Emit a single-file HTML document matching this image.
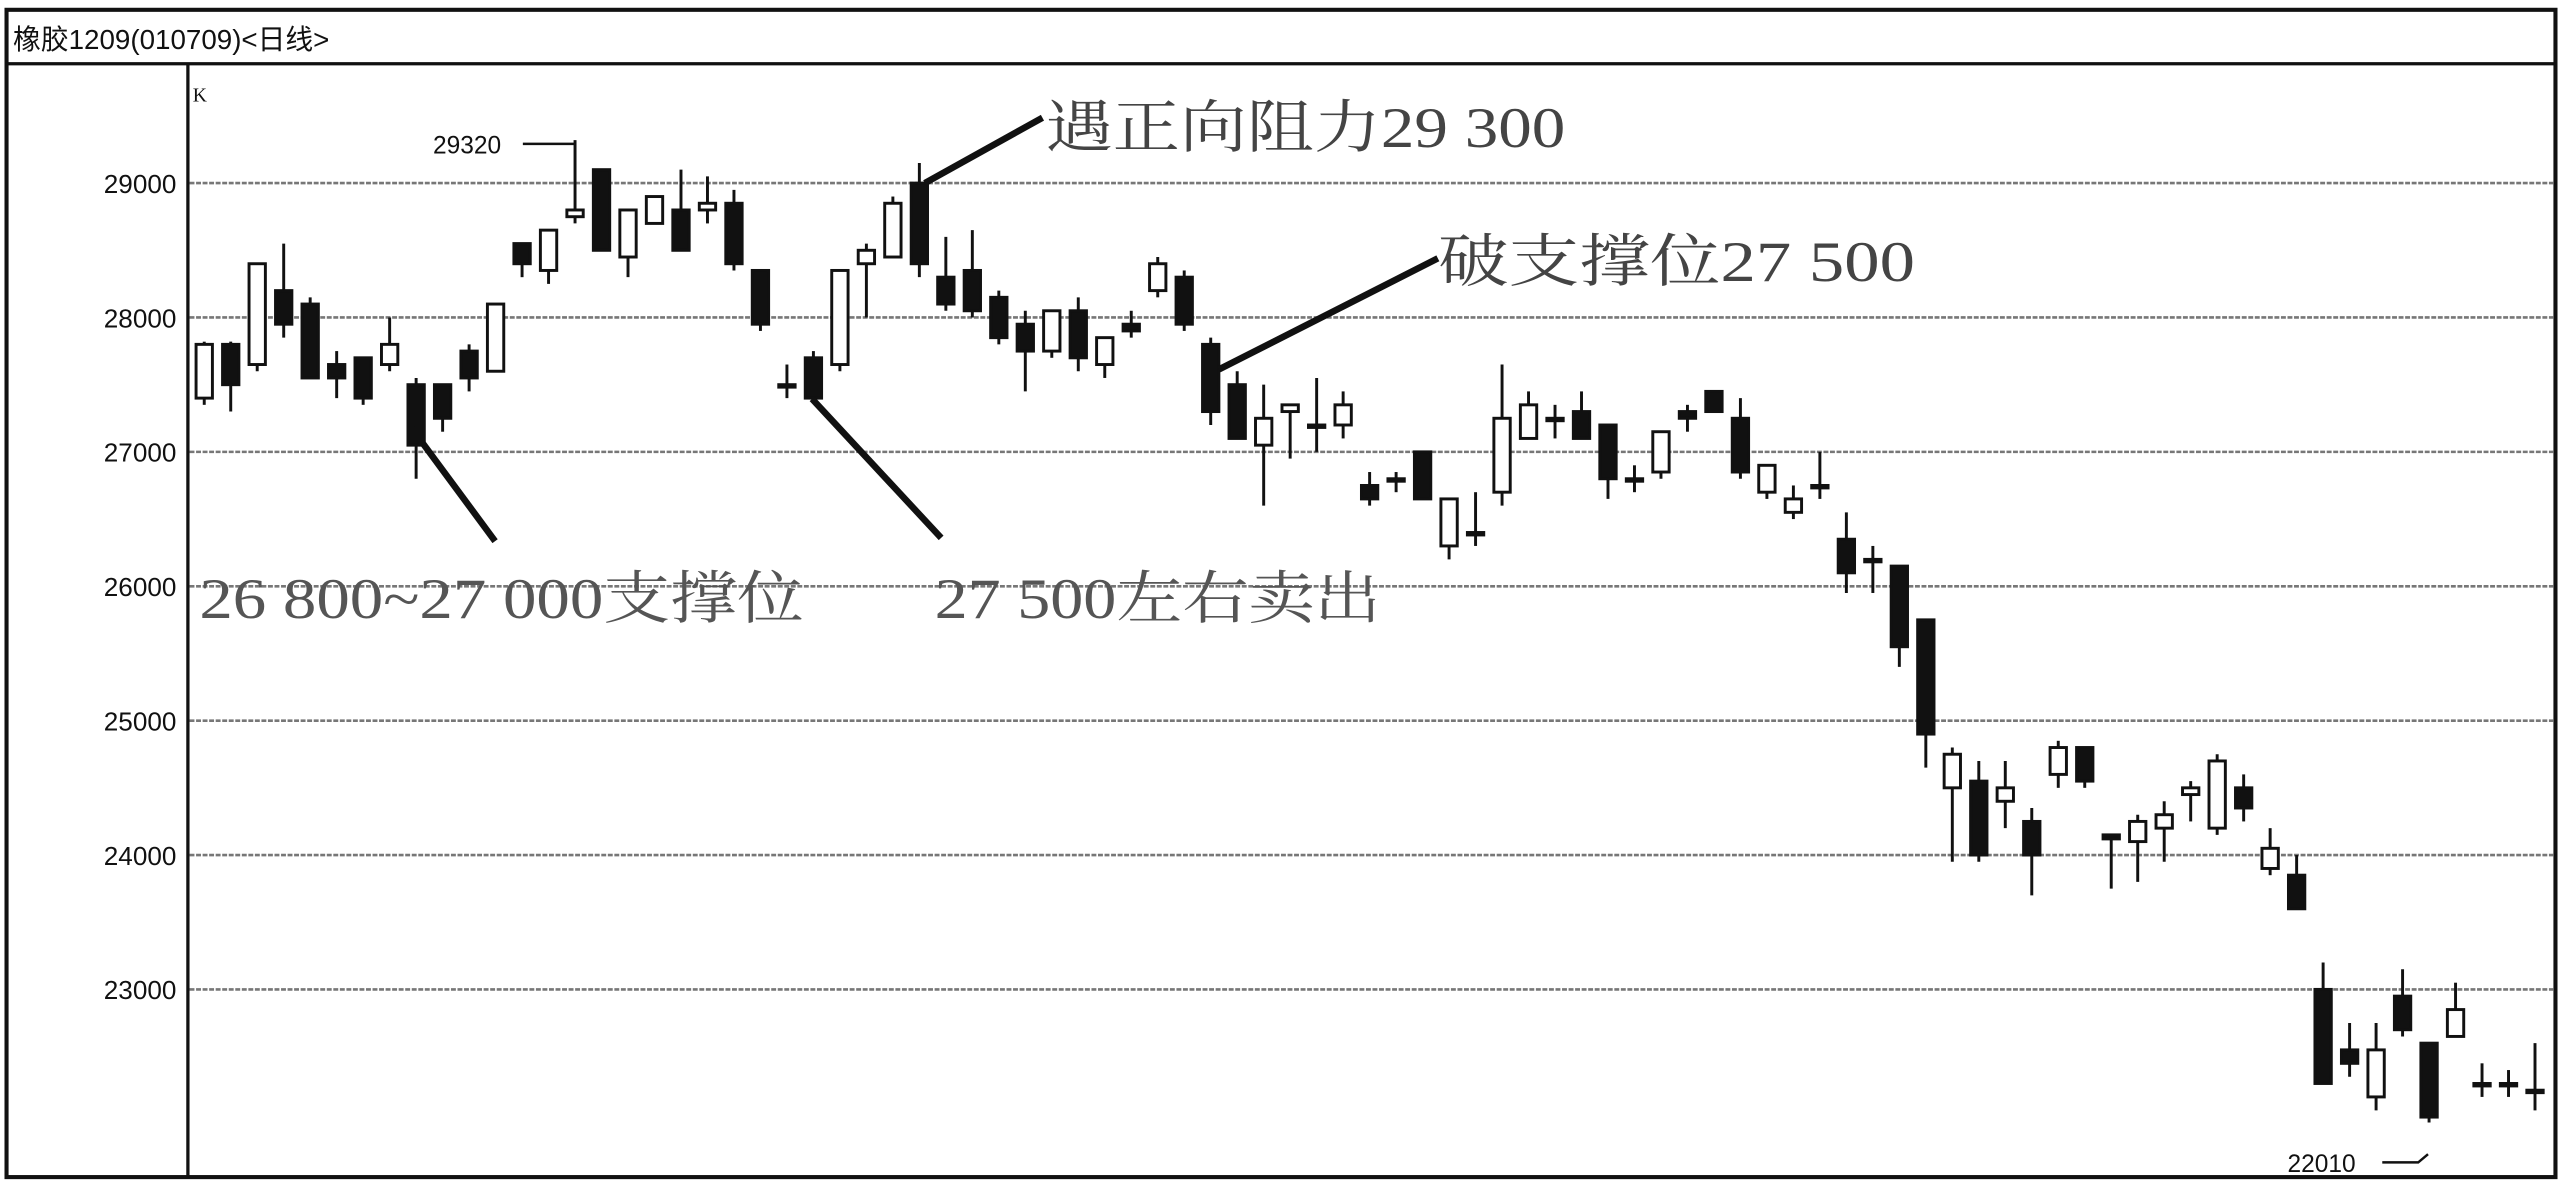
<!DOCTYPE html>
<html><head><meta charset="utf-8"><style>
html,body{margin:0;padding:0;background:#fff;}
svg{display:block;}
</style></head><body>
<svg id="chart" width="2562" height="1182" viewBox="0 0 1568 723" preserveAspectRatio="none" xmlns="http://www.w3.org/2000/svg">
<rect x="0" y="0" width="1568" height="723" fill="#fff"/>
<rect x="4" y="6" width="1560" height="714" fill="none" stroke="#111" stroke-width="2.5"/>
<line x1="4" y1="39" x2="1564" y2="39" stroke="#111" stroke-width="2"/>
<text x="8" y="30" font-size="17" font-family="Liberation Sans, Noto Sans CJK SC, sans-serif" fill="#111">橡胶1209(010709)&lt;日线&gt;</text>
<line x1="115" y1="39" x2="115" y2="720" stroke="#111" stroke-width="2"/>
<text x="118" y="62" font-size="12" font-family="Liberation Serif, serif" fill="#111">K</text>
<g id="grid"></g>
<g id="candles"></g>
<g font-family="Liberation Serif, Noto Serif CJK SC, serif" fill="#333">
<line x1="252" y1="262" x2="303" y2="331" stroke="#111" stroke-width="4"/>
<text x="122" y="378" font-size="35" fill="#555" textLength="370" lengthAdjust="spacingAndGlyphs">26 800~27 000支撑位</text>
<line x1="497" y1="244" x2="576" y2="329" stroke="#111" stroke-width="4"/>
<text x="572" y="378" font-size="35" fill="#555" textLength="273" lengthAdjust="spacingAndGlyphs">27 500左右卖出</text>
<line x1="566" y1="112" x2="638" y2="72" stroke="#111" stroke-width="4"/>
<text x="640" y="90" font-size="35" fill="#444" textLength="318" lengthAdjust="spacingAndGlyphs">遇正向阻力29 300</text>
<line x1="746" y1="226" x2="880" y2="158" stroke="#111" stroke-width="4"/>
<text x="880" y="172" font-size="35" fill="#444" textLength="292" lengthAdjust="spacingAndGlyphs">破支撑位27 500</text>
</g>
<g font-family="Liberation Sans, sans-serif" font-size="15" fill="#111">
<text x="265" y="94">29320</text>
<path d="M320 88 H352 V110" fill="none" stroke="#111" stroke-width="1.5"/>
<text x="1400" y="717">22010</text>
<path d="M1458 711 H1480 L1486 706" fill="none" stroke="#111" stroke-width="1.5"/>
</g>
</svg>
<script>
const tickValues=[29000,28000,27000,26000,25000,24000,23000];
const opens=[27400,27800,27650,28200,28100,27650,27700,27650,27500,27500,27750,27600,28550,28350,28750,29100,28450,28700,28800,28800,28850,28350,27500,27700,27650,28400,28450,29000,28300,28350,28150,27950,27750,28050,27650,27950,28200,28300,27800,27500,27050,27300,27200,27200,26750,26800,27000,26300,26400,26700,27100,27250,27300,27200,26800,26850,27300,27450,27250,26700,26550,26750,26350,26200,26150,25750,24500,24550,24400,24250,24600,24800,24150,24100,24200,24450,24200,24500,23900,23850,23000,22550,22200,22950,22600,22650,22300,22300,22250];
const closes=[27800,27500,28400,27950,27550,27550,27400,27800,27050,27250,27550,28100,28400,28650,28800,28500,28800,28900,28500,28850,28400,27950,27500,27400,28350,28500,28850,28400,28100,28050,27850,27750,28050,27700,27850,27900,28400,27950,27300,27100,27250,27350,27200,27350,26650,26800,26650,26650,26400,27250,27350,27250,27100,26800,26800,27150,27250,27300,26850,26900,26650,26750,26100,26200,25550,24900,24750,24000,24500,24000,24800,24550,24120,24250,24300,24500,24700,24350,24050,23600,22300,22450,22550,22700,22050,22850,22300,22300,22250];
const highs=[27820,27820,28400,28550,28150,27750,27700,28000,27550,27500,27800,28100,28550,28650,29320,29100,28800,28900,29100,29050,28950,28350,27650,27750,28350,28550,28900,29150,28600,28650,28200,28050,28050,28150,27850,28050,28450,28350,27850,27600,27500,27350,27550,27450,26850,26850,27000,26650,26700,27650,27450,27350,27450,27200,26900,27150,27350,27450,27400,26900,26750,27000,26550,26300,26150,25750,24800,24700,24700,24350,24850,24800,24150,24300,24400,24550,24750,24600,24200,24000,23200,22750,22750,23150,22600,23050,22450,22400,22600];
const lows=[27350,27300,27600,27850,27550,27400,27350,27600,26800,27150,27450,27600,28300,28250,28700,28500,28300,28700,28500,28700,28350,27900,27400,27400,27600,28000,28450,28300,28050,28000,27800,27450,27700,27600,27550,27850,28150,27900,27200,27100,26600,26950,27000,27100,26600,26700,26650,26200,26300,26600,27100,27100,27100,26650,26700,26800,27150,27300,26800,26650,26500,26650,25950,25950,25400,24650,23950,23950,24200,23700,24500,24500,23750,23800,23950,24250,24150,24250,23850,23600,22300,22350,22100,22650,22010,22650,22200,22200,22100];
const NS='http://www.w3.org/2000/svg';
function xPos(i){return 125+i*16.21;}
function yPos(v){return 112+(29000-v)*0.0822;}
const grid=document.getElementById('grid');
tickValues.forEach(function(t){
  const ln=document.createElementNS(NS,'line');
  
  
  ln.setAttribute('x1',116);ln.setAttribute('x2',1563);
  ln.setAttribute('y1',yPos(t));ln.setAttribute('y2',yPos(t));
  ln.setAttribute('stroke','#777');ln.setAttribute('stroke-width','1.6');ln.setAttribute('stroke-dasharray','3 1');
  grid.appendChild(ln);
  const tx=document.createElementNS(NS,'text');
  
  
  tx.setAttribute('x',108);tx.setAttribute('y',yPos(t)+6);
  tx.setAttribute('text-anchor','end');tx.setAttribute('font-size','16');
  tx.setAttribute('font-family','Liberation Sans, sans-serif');tx.setAttribute('fill','#111');
  tx.textContent=t;
  grid.appendChild(tx);
});
const cg=document.getElementById('candles');
for(let i=0;i<opens.length;i++){
  const x=xPos(i),o=opens[i],c=closes[i];
  const g=document.createElementNS(NS,'g');
  
  
  const w=document.createElementNS(NS,'line');
  
  
  w.setAttribute('x1',x);w.setAttribute('x2',x);
  w.setAttribute('y1',yPos(highs[i]));w.setAttribute('y2',yPos(lows[i]));
  w.setAttribute('stroke','#111');w.setAttribute('stroke-width','1.8');
  g.appendChild(w);
  const top=yPos(Math.max(o,c)),bot=yPos(Math.min(o,c));
  const r=document.createElementNS(NS,'rect');
  
  
  r.setAttribute('x',x-5);r.setAttribute('width',10);
  r.setAttribute('y',top);r.setAttribute('height',Math.max(bot-top,1.5));
  const up=c>o;
  r.setAttribute('fill',up?'#fff':'#111');
  r.setAttribute('stroke','#111');r.setAttribute('stroke-width','1.8');
  g.appendChild(r);
  cg.appendChild(g);
}
</script>
</body></html>
